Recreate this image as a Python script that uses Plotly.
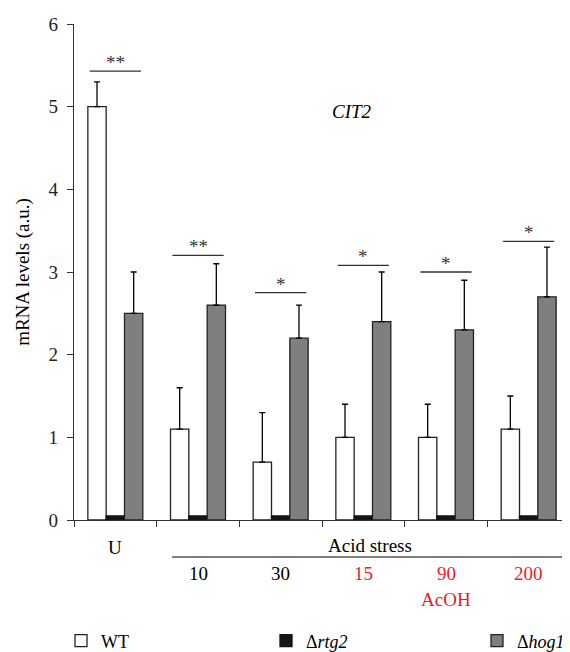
import plotly.graph_objects as go

groups = ["U", "10", "30", "15", "90", "200"]
group_colors = ["black", "black", "black", "red", "red", "red"]
wt = [5.0, 1.1, 0.7, 1.0, 1.0, 1.1]
wt_err = [0.3, 0.5, 0.6, 0.4, 0.4, 0.4]
rtg2 = [0.05, 0.05, 0.05, 0.05, 0.05, 0.05]
hog1 = [2.5, 2.6, 2.2, 2.4, 2.3, 2.7]
hog1_err = [0.5, 0.5, 0.4, 0.6, 0.6, 0.6]
sig_y = [5.43, 3.2, 2.75, 3.08, 3.0, 3.37]
sig_labels = ["**", "**", "*", "*", "*", "*"]
y_ticks = [0, 1, 2, 3, 4, 5, 6]

FONT = "Liberation Serif"
FS = 19
RED = "#e3242b"
xs = list(range(len(groups)))

# page body has an 8px margin: figure is 562x644 placed at (8, 8)
W, H = 562, 644
L, T, B = 66, 16, 132
R = 0
PX0, PY_BOTTOM = 74, 520  # page pixels of plot-area left / bottom
pw = W - L - R
ph = H - T - B


def px_x(p):
    return (p - PX0) / pw


def px_y(p):
    return (PY_BOTTOM - p) / ph


fig = go.Figure()
err_style = dict(type="data", symmetric=False, color="black", thickness=1.3, width=3)
fig.add_trace(go.Bar(x=xs, y=wt, name="WT", legend="legend",
                     marker=dict(color="white", line=dict(color="#222", width=1.3)),
                     error_y=dict(array=wt_err, arrayminus=[0] * 6, **err_style)))
fig.add_trace(go.Bar(x=xs, y=rtg2, name="Δ<i>rtg2</i>", legend="legend2",
                     marker=dict(color="#151515", line=dict(color="#151515", width=1.3))))
fig.add_trace(go.Bar(x=xs, y=hog1, name="Δ<i>hog1</i>", legend="legend3",
                     marker=dict(color="#7f7f7f", line=dict(color="#222", width=1.3)),
                     error_y=dict(array=hog1_err, arrayminus=[0] * 6, **err_style)))

shapes = []
annotations = []
for i, (yv, lab) in enumerate(zip(sig_y, sig_labels)):
    shapes.append(dict(type="line", xref="x", yref="y", x0=i - 0.31, x1=i + 0.31,
                       y0=yv, y1=yv, line=dict(color="#333", width=1.3)))
    annotations.append(dict(x=i, y=yv, xref="x", yref="y", text=lab, showarrow=False,
                            yanchor="bottom", yshift=-4,
                            font=dict(family=FONT, size=FS, color="#333")))

# group labels
for i, g in enumerate(groups):
    col = RED if group_colors[i] == "red" else "black"
    yy = px_y(547) if i == 0 else px_y(573)
    annotations.append(dict(x=i, y=yy, xref="x", yref="paper", text=g, showarrow=False,
                            yanchor="middle",
                            font=dict(family=FONT, size=FS, color=col)))
annotations.append(dict(x=px_x(370), y=px_y(545), xref="paper", yref="paper",
                        text="Acid stress", showarrow=False, yanchor="middle",
                        font=dict(family=FONT, size=FS, color="black")))
annotations.append(dict(x=4, y=px_y(599), xref="x", yref="paper", text="AcOH",
                        showarrow=False, yanchor="middle",
                        font=dict(family=FONT, size=FS, color=RED)))
annotations.append(dict(x=px_x(352), y=px_y(112), xref="paper", yref="paper",
                        text="<i>CIT2</i>", showarrow=False, yanchor="middle",
                        font=dict(family=FONT, size=FS, color="black")))
shapes.append(dict(type="line", xref="paper", yref="paper", x0=px_x(172), x1=px_x(568),
                   y0=px_y(557), y1=px_y(557), line=dict(color="black", width=1.2)))

leg_common = dict(orientation="h", yanchor="middle",
                  font=dict(family=FONT, size=18, color="black"),
                  bgcolor="rgba(0,0,0,0)", borderwidth=0)
fig.update_layout(
    width=W, height=H,
    margin=dict(l=L, r=R, t=T, b=B, autoexpand=False),
    plot_bgcolor="white", paper_bgcolor="white",
    barmode="group", bargap=0.335, bargroupgap=0,
    showlegend=True,
    legend=dict(x=px_x(61), y=px_y(641), xanchor="left", **leg_common),
    legend2=dict(x=px_x(266), y=px_y(641), xanchor="left", **leg_common),
    legend3=dict(x=1.0, y=px_y(641), xanchor="right", **leg_common),
    xaxis=dict(range=[-0.5, 5.5], tickvals=[-0.5, 0.5, 1.5, 2.5, 3.5, 4.5, 5.5],
               ticktext=[""] * 7, ticks="outside", ticklen=6, tickcolor="#333",
               showline=True, linecolor="#333", linewidth=1.3, showgrid=False,
               zeroline=False),
    yaxis=dict(range=[0, 6], tickvals=y_ticks, ticks="outside", ticklen=6,
               tickcolor="#333", showline=True, linecolor="#333", linewidth=1.3,
               showgrid=False, zeroline=False, ticklabelstandoff=5,
               tickfont=dict(family=FONT, size=FS, color="#222"),
               title=dict(text="mRNA levels (a.u.)", standoff=13,
                          font=dict(family=FONT, size=FS, color="black"))),
    shapes=shapes, annotations=annotations,
)

fig.write_html("out.html")
